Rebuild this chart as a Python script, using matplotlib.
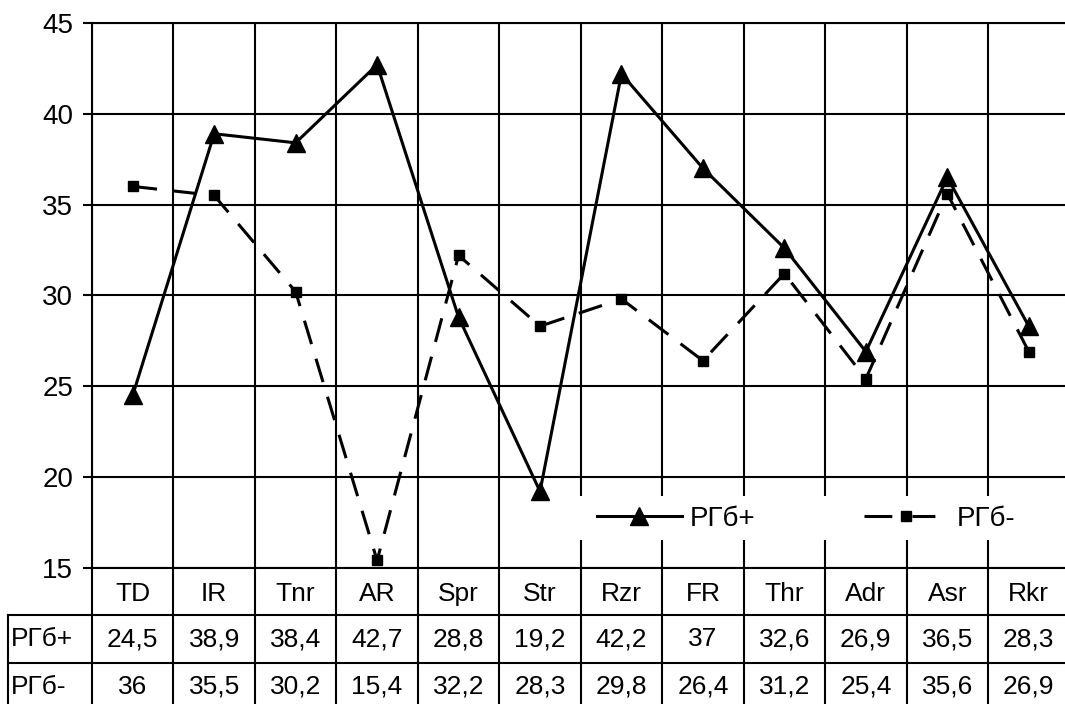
import numpy as np
import matplotlib
matplotlib.use("Agg")
import matplotlib.pyplot as plt
from matplotlib.patches import Rectangle

plt.rcParams['font.family'] = ['Liberation Sans', 'DejaVu Sans']

categories = ["TD", "IR", "Tnr", "AR", "Spr", "Str", "Rzr", "FR", "Thr", "Adr", "Asr", "Rkr"]
rgb_plus = [24.5, 38.9, 38.4, 42.7, 28.8, 19.2, 42.2, 37.0, 32.6, 26.9, 36.5, 28.3]
rgb_minus = [36.0, 35.5, 30.2, 15.4, 32.2, 28.3, 29.8, 26.4, 31.2, 25.4, 35.6, 26.9]
series_names = ["РГб+", "РГб-"]
yticks = [15, 20, 25, 30, 35, 40, 45]

W, H = 1065, 704
fig = plt.figure(figsize=(W / 100, H / 100), dpi=100)

# pixel layout
x0, x1 = 92, 1069.5
ytop, ybot = 23, 567.7
ax = fig.add_axes([x0 / W, 1 - ybot / H, (x1 - x0) / W, (ybot - ytop) / H])

n = len(categories)
x = np.arange(n)
lw_grid = 1.5

ax.set_xlim(-0.5, n - 0.5)
ax.set_ylim(15, 45)
ax.set_yticks(yticks)
ax.set_yticklabels([str(v) for v in yticks], fontsize=20)
ax.tick_params(axis='y', length=6.5, width=lw_grid, pad=7, direction='out', colors='black')
ax.set_xticks(np.arange(-0.5, n, 1))
ax.set_xticklabels([])
ax.tick_params(axis='x', length=0)
ax.grid(True, color='black', linewidth=lw_grid)
ax.set_axisbelow(True)
for s in ax.spines.values():
    s.set_linewidth(lw_grid)
    s.set_color('black')

ax.plot(x, rgb_plus, color='black', lw=2.2, marker='^', ms=13, mew=1, zorder=4,
        label=series_names[0])
ax.plot(x, rgb_minus, color='black', lw=2.2, marker='s', ms=7.5, mew=1, zorder=4,
        dashes=(8, 5), label=series_names[1])

# white legend background
px_per_unit = (x1 - x0) / n
yunit = (ybot - ytop) / 30.0
lx = (578 - x0) / px_per_unit - 0.5
ly0 = 45 - (540 - ytop) / yunit
ly1 = 45 - (496 - ytop) / yunit
ax.add_patch(Rectangle((lx, ly0), n - 0.5 - lx + 1, ly1 - ly0, facecolor='white',
                       edgecolor='none', zorder=3, clip_on=True))
leg = ax.legend(loc='center left', bbox_to_anchor=((597 - x0) / (x1 - x0), (ybot - 519) / (ybot - ytop)),
                ncol=2, frameon=False, fontsize=20, handlelength=3.05, handletextpad=0.3,
                columnspacing=3.9, borderpad=0, borderaxespad=0)
leg.set_zorder(5)
for h in leg.get_lines():
    if h.get_marker() == 's':
        h.set_dashes((9.1, 6.6, 7.5, 9.1))

# table
row_h = 47.7
tab = fig.add_axes([x0 / W, 1 - (ybot + 3 * row_h) / H, (x1 - x0) / W, 3 * row_h / H])
tab.set_xlim(-0.5, n - 0.5)
tab.set_ylim(3, 0)
tab.axis('off')
lab_left = -0.5 - (x0 - 8) / px_per_unit

for b in np.arange(-0.5, n, 1):
    tab.plot([b, b], [0, 3], color='black', lw=lw_grid, clip_on=False)
tab.plot([lab_left, lab_left], [1, 3], color='black', lw=lw_grid, clip_on=False)
for yy in [1, 2, 3]:
    tab.plot([lab_left, n - 0.5], [yy, yy], color='black', lw=lw_grid, clip_on=False)

def fmt(v):
    return f"{v:g}".replace('.', ',')

fs_tab = 19
for i, c in enumerate(categories):
    tab.text(i, 0.55, c, ha='center', va='center', fontsize=fs_tab, clip_on=False)
    tab.text(i, 1.5, fmt(rgb_plus[i]), ha='center', va='center', fontsize=fs_tab, clip_on=False)
    tab.text(i, 2.5, fmt(rgb_minus[i]), ha='center', va='center', fontsize=fs_tab, clip_on=False)
for r, name in enumerate(series_names):
    tab.text(lab_left + 3 / px_per_unit, 1.5 + r, name, ha='left', va='center', fontsize=fs_tab,
             clip_on=False)

fig.savefig("out.png", dpi=100)
